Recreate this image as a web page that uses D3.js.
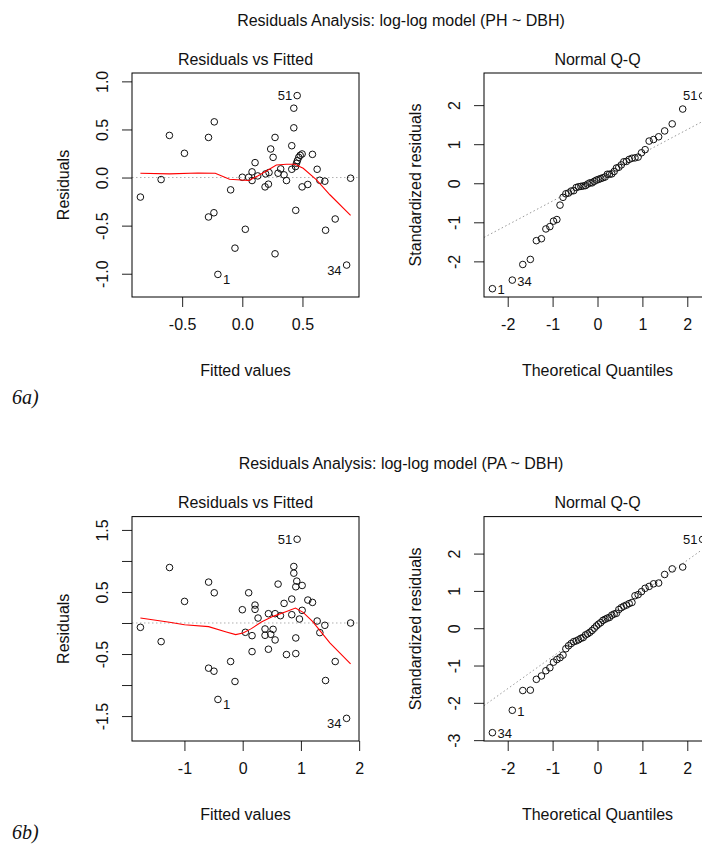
<!DOCTYPE html>
<html><head><meta charset="utf-8">
<script src="https://cdn.jsdelivr.net/npm/d3@7"></script>
<style>
body{margin:0;background:#fff}
svg{display:block}
text{font-family:"Liberation Sans",Arial,sans-serif;fill:#111}
</style>
</head><body>
<svg id="chart" width="702" height="850"></svg>
<script>
// ---------------- DATA ----------------
// Model 6a: PH ~ DBH (log-log)
const fittedPH = [-0.847,-0.675,-0.606,-0.481,-0.281,-0.233,-0.281,-0.236,-0.203,-0.097,-0.061,0.025,0.000,0.053,0.081,0.081,0.106,0.128,0.189,0.217,0.194,0.222,0.236,0.256,0.272,0.272,0.297,0.319,0.347,0.367,0.411,0.411,0.428,0.428,0.456,0.444,0.442,0.450,0.458,0.469,0.481,0.497,0.497,0.544,0.583,0.622,0.644,0.686,0.692,0.772,0.867,0.900];
const residPH  = [-0.203,-0.021,0.438,0.252,0.417,0.579,-0.410,-0.366,-1.007,-0.128,-0.734,-0.538,0.003,0.003,0.059,-0.031,0.155,0.017,-0.097,-0.069,0.038,0.052,0.297,0.210,0.417,-0.793,0.045,0.090,0.028,-0.031,0.331,0.086,0.517,0.721,0.852,-0.341,0.114,0.148,0.176,0.210,0.231,0.245,-0.097,-0.072,0.241,0.086,-0.028,-0.038,-0.548,-0.431,-0.910,-0.007];
const residIdsPH = [[8,"1"],[50,"34"],[34,"51"]];
const smoothXPH = [-0.847,-0.606,-0.369,-0.225,-0.106,0.053,0.128,0.200,0.283,0.367,0.436,0.506,0.617,0.728,0.900];
const smoothYPH = [0.045,0.038,0.048,0.045,-0.017,-0.031,0.017,0.069,0.131,0.138,0.138,0.097,-0.024,-0.179,-0.393];
const stdResPH = [-2.70,-2.48,-2.08,-1.95,-1.47,-1.42,-1.17,-1.11,-0.97,-0.93,-0.56,-0.36,-0.27,-0.25,-0.20,-0.19,-0.11,-0.09,-0.08,-0.07,-0.06,-0.02,0.01,0.01,0.05,0.08,0.10,0.12,0.14,0.16,0.23,0.23,0.24,0.30,0.39,0.41,0.47,0.55,0.56,0.61,0.64,0.65,0.67,0.78,0.86,1.08,1.12,1.19,1.34,1.52,1.90,2.24];
const qqIdsPH = [[0,"1"],[1,"34"],[51,"51"]];
const qqLinePH = {intercept: 0.155, slope: 0.61};

// Model 6b: PA ~ DBH (log-log)
const fittedPA = [-1.756,-1.400,-1.256,-0.998,-0.585,-0.488,-0.585,-0.493,-0.425,-0.207,-0.132,-0.006,0.046,0.103,0.161,0.161,0.212,0.212,0.264,0.384,0.384,0.442,0.442,0.482,0.522,0.557,0.557,0.608,0.648,0.711,0.752,0.843,0.843,0.878,0.878,0.935,0.912,0.929,0.912,0.912,0.975,1.021,1.021,1.119,1.199,1.279,1.325,1.411,1.423,1.589,1.784,1.853];
const residPA  = [-0.070,-0.300,0.894,0.348,0.659,0.487,-0.728,-0.777,-1.232,-0.621,-0.943,0.214,-0.150,0.487,-0.461,-0.204,0.289,0.220,0.080,-0.096,-0.198,0.150,-0.423,-0.182,-0.102,-0.273,0.150,0.627,0.118,0.316,-0.509,0.386,0.134,0.911,0.803,1.350,0.584,0.675,-0.241,-0.493,0.064,0.605,0.204,0.370,0.332,0.032,-0.155,-0.037,-0.927,-0.621,-1.537,0.000];
const residIdsPA = [[8,"1"],[50,"34"],[35,"51"]];
const smoothXPA = [-1.756,-1.256,-0.998,-0.585,-0.281,-0.120,0.006,0.149,0.321,0.522,0.752,0.906,1.038,1.199,1.497,1.853];
const smoothYPA = [0.080,0.011,-0.027,-0.059,-0.145,-0.187,-0.161,-0.091,0.016,0.107,0.187,0.241,0.171,0.027,-0.321,-0.659];
const stdResPA = [-2.80,-2.20,-1.67,-1.66,-1.37,-1.28,-1.14,-1.06,-0.91,-0.84,-0.79,-0.72,-0.55,-0.47,-0.41,-0.36,-0.34,-0.31,-0.27,-0.25,-0.18,-0.15,-0.11,-0.06,0.00,0.06,0.11,0.15,0.21,0.24,0.27,0.29,0.35,0.38,0.40,0.50,0.55,0.59,0.62,0.66,0.69,0.87,0.90,0.98,1.07,1.12,1.19,1.21,1.44,1.59,1.64,2.38];
const qqIdsPA = [[0,"34"],[1,"1"],[51,"51"]];
const qqLinePA = {intercept: 0.10, slope: 0.86};

// Theoretical normal quantiles for n = 52
const theoQ = [-2.341,-1.898,-1.664,-1.496,-1.362,-1.249,-1.150,-1.061,-0.980,-0.905,-0.835,-0.768,-0.705,-0.645,-0.586,-0.530,-0.475,-0.422,-0.370,-0.319,-0.268,-0.219,-0.170,-0.121,-0.072,-0.024,0.024,0.072,0.121,0.170,0.219,0.268,0.319,0.370,0.422,0.475,0.530,0.586,0.645,0.705,0.768,0.835,0.905,0.980,1.061,1.150,1.249,1.362,1.496,1.664,1.898,2.341];

// Tick values & labels
const xTicksPH = [-0.5, 0, 0.5];           const xTickLabelsPH = ["-0.5","0.0","0.5"];
const yTicksPH = [-1, -0.5, 0, 0.5, 1];    const yTickLabelsPH = ["-1.0","-0.5","0.0","0.5","1.0"];
const xTicksPA = [-1, 0, 1, 2];            const xTickLabelsPA = ["-1","0","1","2"];
const yTicksPA = [-1.5,-1,-0.5,0,0.5,1,1.5]; const yTickLabelsPA = ["-1.5","","-0.5","","0.5","","1.5"];
const qqXTicks = [-2,-1,0,1,2];            const qqXTickLabels = ["-2","-1","0","1","2"];
const qqYTicksPH = [-2,-1,0,1,2];          const qqYTickLabelsPH = ["-2","-1","0","1","2"];
const qqYTicksPA = [-3,-2,-1,0,1,2];       const qqYTickLabelsPA = ["-3","-2","-1","0","1","2"];

const titles = ["Residuals Analysis: log-log model (PH ~ DBH)", "Residuals Analysis: log-log model (PA ~ DBH)"];
const figLabels = ["6a)", "6b)"];

// ---------------- DRAWING ----------------
const svg = d3.select("#chart");
const FS = 16;

function padRange(ext, f){ const d = ext[1]-ext[0]; return [ext[0]-d*f, ext[1]+d*f]; }

let clipId = 0;
function frameSetup(frame, xDom, yDom){
  const x = d3.scaleLinear().domain(xDom).range([frame.l, frame.r]);
  const y = d3.scaleLinear().domain(yDom).range([frame.b, frame.t]);
  const id = "clip" + (clipId++);
  svg.append("clipPath").attr("id", id).append("rect")
     .attr("x", frame.l).attr("y", frame.t).attr("width", frame.r-frame.l).attr("height", frame.b-frame.t);
  return {x, y, clip: "url(#" + id + ")"};
}

function drawAxes(frame, sc, xT, xL, yT, yL){
  const gx = svg.append("g").attr("transform", `translate(0,${frame.b})`)
    .call(d3.axisBottom(sc.x).tickValues(xT).tickFormat((d,i)=>xL[i]).tickSize(10));
  gx.select(".domain").remove();
  gx.selectAll("line").attr("stroke","#222");
  gx.selectAll("text").attr("font-size", FS).attr("font-family",null).attr("fill","#111")
    .attr("y", 27).attr("dy","0.35em");
  const gy = svg.append("g").attr("transform", `translate(${frame.l},0)`)
    .call(d3.axisLeft(sc.y).tickValues(yT).tickFormat((d,i)=>yL[i]).tickSize(10));
  gy.select(".domain").remove();
  gy.selectAll("line").attr("stroke","#222");
  gy.selectAll("text").attr("font-size", FS).attr("font-family",null).attr("fill","#111")
    .attr("x", 0).attr("dy","0.35em").attr("text-anchor","middle")
    .attr("transform","translate(-30,0) rotate(-90)");
  svg.append("rect").attr("x", frame.l).attr("y", frame.t)
     .attr("width", frame.r-frame.l).attr("height", frame.b-frame.t)
     .attr("fill","none").attr("stroke","#000").attr("stroke-width",1);
}

function axisTitles(frame, title, xlab, ylab){
  const cx = (frame.l+frame.r)/2, cy = (frame.t+frame.b)/2;
  svg.append("text").attr("x", cx).attr("y", frame.t-14).attr("dy","0.35em")
     .attr("text-anchor","middle").attr("font-size", FS).text(title);
  svg.append("text").attr("x", cx).attr("y", frame.b+73).attr("dy","0.35em")
     .attr("text-anchor","middle").attr("font-size", FS).text(xlab);
  svg.append("text").attr("transform", `translate(${frame.l-69},${cy}) rotate(-90)`)
     .attr("dy","0.35em").attr("text-anchor","middle").attr("font-size", FS).text(ylab);
}

function points(sc, xs, ys){
  svg.append("g").selectAll("circle").data(xs).join("circle")
    .attr("cx", (d)=>sc.x(d)).attr("cy", (d,i)=>sc.y(ys[i])).attr("r", 3.3)
    .attr("fill","none").attr("stroke","#111").attr("stroke-width",1);
}

function idLabels(sc, xs, ys, ids, negShift){
  const mid = (d3.min(xs)+d3.max(xs))/2;
  ids.forEach(([i, lab])=>{
    const px = sc.x(xs[i]), py = sc.y(ys[i]) + (ys[i] < 0 ? negShift : 0);
    const left = xs[i] > mid;
    svg.append("text").attr("x", left ? px-5 : px+5).attr("y", py).attr("dy","0.35em")
      .attr("text-anchor", left ? "end" : "start").attr("font-size", 13).attr("fill","#223").text(lab);
  });
}

function residPanel(frame, fitted, resid, sx, sy, xT, xL, yT, yL, ids){
  const xDom = padRange(d3.extent(fitted), 0.04);
  const yDom = padRange(padRange(d3.extent(resid), 0.08), 0.04);
  const sc = frameSetup(frame, xDom, yDom);
  svg.append("line").attr("clip-path", sc.clip)
     .attr("x1", frame.l).attr("x2", frame.r).attr("y1", sc.y(0)).attr("y2", sc.y(0))
     .attr("stroke","#b0b0b0").attr("stroke-dasharray","1.5,2.5").attr("stroke-width",1);
  points(sc, fitted, resid);
  const line = d3.line().x((d)=>sc.x(d)).y((d,i)=>sc.y(sy[i]));
  svg.append("path").attr("clip-path", sc.clip).attr("d", line(sx))
     .attr("fill","none").attr("stroke","#ff0000").attr("stroke-width",1.1);
  idLabels(sc, fitted, resid, ids, 5);
  drawAxes(frame, sc, xT, xL, yT, yL);
  axisTitles(frame, "Residuals vs Fitted", "Fitted values", "Residuals");
}

function qqPanel(frame, tq, rs, qline, yT, yL, ids){
  const xDom = padRange(d3.extent(tq), 0.04);
  const ext = d3.extent(rs); ext[1] = ext[1] + (ext[1]-ext[0])*0.075;
  const yDom = padRange(ext, 0.04);
  const sc = frameSetup(frame, xDom, yDom);
  svg.append("line").attr("clip-path", sc.clip)
     .attr("x1", sc.x(xDom[0])).attr("x2", sc.x(xDom[1]))
     .attr("y1", sc.y(qline.intercept + qline.slope*xDom[0]))
     .attr("y2", sc.y(qline.intercept + qline.slope*xDom[1]))
     .attr("stroke","#999").attr("stroke-dasharray","1.5,2.5").attr("stroke-width",1);
  points(sc, tq, rs);
  idLabels(sc, tq, rs, ids, 1);
  drawAxes(frame, sc, qqXTicks, qqXTickLabels, yT, yL);
  axisTitles(frame, "Normal Q-Q", "Theoretical Quantiles", "Standardized residuals");
}

const rows = [{t:73, b:297, fig:397}, {t:516.6, b:741, fig:832}];
const colL = {l:132, r:359}, colR = {l:484, r:711};

rows.forEach((row, k)=>{
  const fL = {l:colL.l, r:colL.r, t:row.t, b:row.b};
  const fR = {l:colR.l, r:colR.r, t:row.t, b:row.b};
  if (k === 0){
    residPanel(fL, fittedPH, residPH, smoothXPH, smoothYPH, xTicksPH, xTickLabelsPH, yTicksPH, yTickLabelsPH, residIdsPH);
    qqPanel(fR, theoQ, stdResPH, qqLinePH, qqYTicksPH, qqYTickLabelsPH, qqIdsPH);
  } else {
    residPanel(fL, fittedPA, residPA, smoothXPA, smoothYPA, xTicksPA, xTickLabelsPA, yTicksPA, yTickLabelsPA, residIdsPA);
    qqPanel(fR, theoQ, stdResPA, qqLinePA, qqYTicksPA, qqYTickLabelsPA, qqIdsPA);
  }
  svg.append("text").attr("x", 401).attr("y", row.t-53).attr("dy","0.35em")
     .attr("text-anchor","middle").attr("font-size", FS).text(titles[k]);
  svg.append("text").attr("x", 12).attr("y", row.fig).attr("dy","0.35em")
     .style("font-family","'Liberation Serif','Times New Roman',serif").attr("font-style","italic")
     .attr("font-size", 20).text(figLabels[k]);
});
</script>
</body></html>
